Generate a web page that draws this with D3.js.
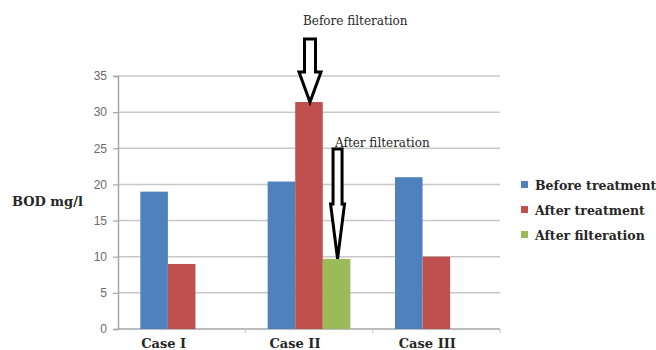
<!DOCTYPE html>
<html>
<head>
<meta charset="utf-8">
<script src="https://cdn.jsdelivr.net/npm/d3@7"></script>
<style>
  html, body { margin: 0; padding: 0; background: #fff; }
  svg { display: block; }
</style>
</head>
<body>
<svg id="chart" width="656" height="350"></svg>
<script>
// BOD readings (mg/l) per case and stage
const categories = ["Case I", "Case II", "Case III"];
const seriesNames = ["Before treatment", "After treatment", "After filteration"];
const beforeTreatment = [19, 20.4, 21];
const afterTreatment = [9, 31.4, 10];
const afterFilteration = [null, 9.7, null];
const yTicks = [0, 5, 10, 15, 20, 25, 30, 35];
const colors = ["#4F81BD", "#C0504D", "#9BBB59"];

const seriesValues = [beforeTreatment, afterTreatment, afterFilteration];

const serif = "'DejaVu Serif', 'Liberation Serif', serif";
const svg = d3.select("#chart");
const plot = { left: 118, right: 500, top: 76, bottom: 329 };

const x0 = d3.scaleBand().domain(categories).range([plot.left, plot.right]).paddingInner(0).paddingOuter(0);
const x1 = d3.scaleBand().domain(seriesNames).range([0, x0.bandwidth()]).paddingOuter(0.81).paddingInner(0);
const y = d3.scaleLinear().domain([0, 35]).range([plot.bottom, plot.top]);

// horizontal gridlines
svg.append("g")
  .selectAll("line")
  .data(yTicks)
  .join("line")
  .attr("x1", plot.left)
  .attr("x2", plot.right)
  .attr("y1", d => y(d))
  .attr("y2", d => y(d))
  .attr("stroke", d => d === 0 ? "#a6a6a6" : "#c8c8c8")
  .attr("stroke-width", 1.5);

// y axis
const yAxis = svg.append("g")
  .attr("transform", `translate(${plot.left},0)`)
  .call(d3.axisLeft(y).tickValues(yTicks).tickSize(5).tickPadding(6));
yAxis.select(".domain").attr("stroke", "#a6a6a6").attr("stroke-width", 1.5);
yAxis.selectAll(".tick line").attr("stroke", "#a6a6a6").attr("stroke-width", 1.2);
yAxis.selectAll(".tick text")
  .attr("font-family", "'Liberation Sans', Arial, sans-serif")
  .attr("font-size", 12)
  .attr("fill", "#6a6a6a");

// category boundary ticks on the baseline
svg.append("g")
  .selectAll("line")
  .data(categories)
  .join("line")
  .attr("x1", d => x0(d) + x0.bandwidth())
  .attr("x2", d => x0(d) + x0.bandwidth())
  .attr("y1", plot.bottom)
  .attr("y2", plot.bottom + 4)
  .attr("stroke", "#c8c8c8")
  .attr("stroke-width", 1.2);

// bars
const groups = svg.append("g")
  .selectAll("g")
  .data(categories)
  .join("g")
  .attr("transform", d => `translate(${x0(d)},0)`);

groups.selectAll("rect")
  .data((c, ci) => seriesNames.map((s, si) => ({ s, si, v: seriesValues[si][ci] })).filter(d => d.v != null))
  .join("rect")
  .attr("x", d => x1(d.s))
  .attr("width", x1.bandwidth())
  .attr("y", d => y(d.v))
  .attr("height", d => y(0) - y(d.v))
  .attr("fill", d => colors[d.si]);

// category labels
svg.append("g")
  .selectAll("text")
  .data(categories)
  .join("text")
  .attr("x", (d, i) => x0(d) + x0.bandwidth() / 2 + [-18, -14, -9][i])
  .attr("y", 348)
  .attr("text-anchor", "middle")
  .attr("font-family", serif)
  .attr("font-weight", "bold")
  .attr("font-size", 13)
  .attr("fill", "#262626")
  .text(d => d);

// y axis title
svg.append("text")
  .attr("x", 12)
  .attr("y", 206)
  .attr("font-family", serif)
  .attr("font-weight", "bold")
  .attr("font-size", 13)
  .attr("fill", "#262626")
  .text("BOD mg/l");

// legend
const legend = svg.append("g")
  .selectAll("g")
  .data(seriesNames)
  .join("g")
  .attr("transform", (d, i) => `translate(521,${186 + i * 25})`);
legend.append("rect")
  .attr("x", 0).attr("y", -5).attr("width", 7).attr("height", 7)
  .attr("fill", (d, i) => colors[i]);
legend.append("text")
  .attr("x", 14)
  .attr("y", 4)
  .attr("font-family", serif)
  .attr("font-weight", "bold")
  .attr("font-size", 12.5)
  .attr("fill", "#262626")
  .text(d => d);

// annotation arrows (outlined, hollow, pointing down)
function downArrow(cx, yTop, yHeadStart, yTip, shaftW, headW) {
  const hs = shaftW / 2, hh = headW / 2;
  return `M${cx - hs},${yTop} L${cx + hs},${yTop} L${cx + hs},${yHeadStart} L${cx + hh},${yHeadStart} ` +
         `L${cx},${yTip} L${cx - hh},${yHeadStart} L${cx - hs},${yHeadStart} Z`;
}

const secondCat = categories[1];
const redX = x0(secondCat) + x1(seriesNames[1]) + x1.bandwidth() / 2;
const greenX = x0(secondCat) + x1(seriesNames[2]) + x1.bandwidth() / 2;

svg.append("path")
  .attr("d", downArrow(redX + 1, 39, 72, y(afterTreatment[1]), 11, 22))
  .attr("fill", "#fff")
  .attr("stroke", "#000")
  .attr("stroke-width", 3)
  .attr("stroke-linejoin", "miter");

svg.append("path")
  .attr("d", downArrow(greenX + 1, 149, 204, y(afterFilteration[1]), 9, 14))
  .attr("fill", "#fff")
  .attr("stroke", "#000")
  .attr("stroke-width", 3)
  .attr("stroke-linejoin", "miter");

svg.append("text")
  .attr("x", 303)
  .attr("y", 25)
  .attr("font-family", serif)
  .attr("font-size", 12)
  .attr("fill", "#262626")
  .text("Before filteration");

svg.append("text")
  .attr("x", 335)
  .attr("y", 147)
  .attr("font-family", serif)
  .attr("font-size", 12)
  .attr("fill", "#262626")
  .text("After filteration");
</script>
</body>
</html>
